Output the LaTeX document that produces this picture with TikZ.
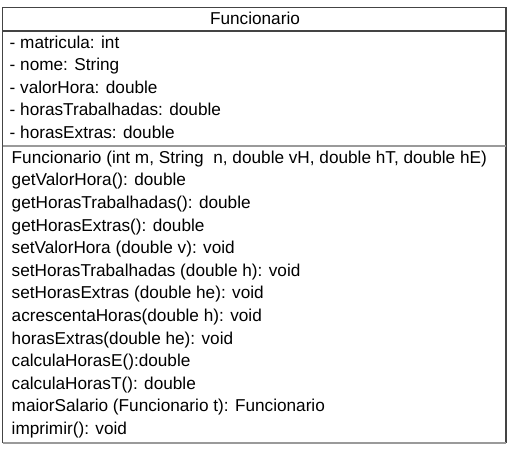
\documentclass[tikz,border=0pt]{standalone}
\usepackage{fontspec}
\setmainfont{Liberation Sans}
\definecolor{edge}{HTML}{444444}
\definecolor{soft}{HTML}{9A9A9A}
\begin{document}
\begin{tikzpicture}[x=1pt,y=-1pt,
  member/.style={anchor=base west,inner sep=0pt,font=\fontsize{17.2}{20}\selectfont},
  titletext/.style={anchor=base,inner sep=0pt,font=\fontsize{17.2}{20}\selectfont},
  frame/.style={draw=edge,line width=1.2pt},
  softline/.style={draw=soft,line width=2pt}]
\useasboundingbox (0,0) rectangle (510,449);
\draw[frame] (2.5,443) -- (2.5,7.5) -- (506,7.5) -- (506,443);
\draw[softline] (2.5,443) -- (506,443);
\draw[frame] (2.5,31) -- (506,31);
\draw[softline] (2.5,146) -- (506,146);
\node[titletext] (title) at (255,25) {Funcionario};
\node[member] (a1) at (9.5,48.3) {- matricula: int};
\node[member] (a2) at (9.5,70.8) {- nome: String};
\node[member] (a3) at (9.5,93.3) {- valorHora: double};
\node[member] (a4) at (9.5,115.8) {- horasTrabalhadas: double};
\node[member] (a5) at (9.5,138.3) {- horasExtras: double};
\node[member] (m1) at (11.5,163.3) {Funcionario (int m, String\ \ n, double vH, double hT, double hE)};
\node[member] (m2) at (11.5,185.9) {getValorHora(): double};
\node[member] (m3) at (11.5,208.5) {getHorasTrabalhadas(): double};
\node[member] (m4) at (11.5,231.1) {getHorasExtras(): double};
\node[member] (m5) at (11.5,253.7) {setValorHora (double v): void};
\node[member] (m6) at (11.5,276.3) {setHorasTrabalhadas (double h): void};
\node[member] (m7) at (11.5,298.9) {setHorasExtras (double he): void};
\node[member] (m8) at (11.5,321.5) {acrescentaHoras(double h): void};
\node[member] (m9) at (11.5,344.1) {horasExtras(double he): void};
\node[member] (m10) at (11.5,366.7) {calculaHorasE():double};
\node[member] (m11) at (11.5,389.3) {calculaHorasT(): double};
\node[member] (m12) at (11.5,411.9) {maiorSalario (Funcionario t): Funcionario};
\node[member] (m13) at (11.5,434.5) {imprimir(): void};
\end{tikzpicture}
\end{document}
